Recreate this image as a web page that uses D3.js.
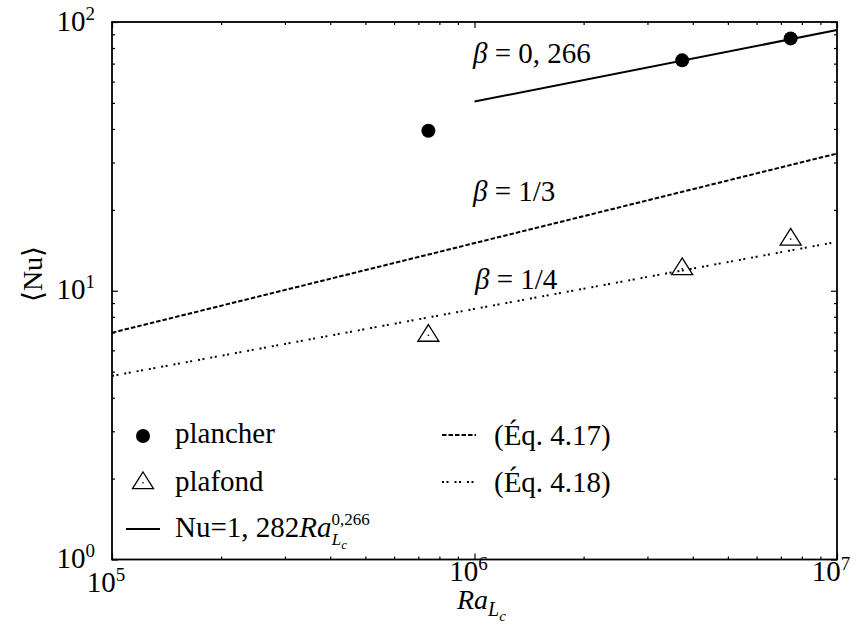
<!DOCTYPE html>
<html>
<head>
<meta charset="utf-8">
<script src="https://cdn.jsdelivr.net/npm/d3@7"></script>
<style>
    body { margin: 0; background: #fff; }
    svg text { font-family: "Liberation Serif", "DejaVu Serif", Times, serif; fill: #000; }
</style>
</head>
<body>
<div id="chart"></div>
<script>
/* *******************************************************
   Data
******************************************************* */
// plancher (floor) - filled circles
var raPlancher = [7.46e5, 3.74e6, 7.45e6];
var nuPlancher = [39.4, 72.0, 86.9];

// plafond (ceiling) - open triangles
var raPlafond = [7.46e5, 3.74e6, 7.45e6];
var nuPlafond = [6.93, 12.26, 15.8];

// fit Nu = 1,282 Ra^0,266 (solid)
var raFit = [1e6, 1e7];
var nuFit = [50.6, 93.3];

// Eq. 4.17 (beta = 1/3, dashed)
var raEq417 = [1e5, 1e7];
var nuEq417 = [6.98, 32.4];

// Eq. 4.18 (beta = 1/4, dotted)
var raEq418 = [1e5, 1e7];
var nuEq418 = [4.82, 15.2];

// tick labels
var xTickValues = [1e5, 1e6, 1e7];
var xTickExp = ["5", "6", "7"];
var yTickValues = [1, 10, 100];
var yTickExp = ["0", "1", "2"];

/* *******************************************************
   Set Chart Parameters (svg size, margins, chartsize)
******************************************************* */
let width = 861;
let height = 638;
var serif = "'Liberation Serif', 'DejaVu Serif', Times, serif";

var margin = { top: 22, right: 24, bottom: 78.5, left: 112 };
var chartWidth = width - margin.left - margin.right;
var chartHeight = height - margin.top - margin.bottom;

let svg = d3.select("#chart").append("svg")
    .attr("width", width).attr("height", height)
    .attr("font-family", serif);

let chartGroup = svg.append("g")
    .attr("transform", `translate(${margin.left}, ${margin.top})`);

// scales
var xScale = d3.scaleLog().domain([1e5, 1e7]).range([0, chartWidth]);
var yScale = d3.scaleLog().domain([1, 100]).range([chartHeight, 0]);

// minor ticks 2..9 for each decade
var xMinor = [];
[1e5, 1e6].forEach(function (d) {
    for (var k = 2; k <= 9; k++) xMinor.push(d * k);
});
var yMinor = [];
[1, 10].forEach(function (d) {
    for (var k = 2; k <= 9; k++) yMinor.push(d * k);
});

/* =======================================================
    Axes (inward ticks on all four sides)
======================================================= */
function drawTicks(axisFn, scale, values, len, transform) {
    var ax = axisFn(scale).tickValues(values).tickSize(-len).tickFormat("");
    var g = chartGroup.append("g").attr("transform", transform).call(ax);
    g.select(".domain").remove();
    g.selectAll("line").attr("stroke", "#000").attr("stroke-width", 1.2);
}
// bottom / top
drawTicks(d3.axisBottom, xScale, xTickValues, 6, `translate(0, ${chartHeight})`);
drawTicks(d3.axisBottom, xScale, xMinor, 3, `translate(0, ${chartHeight})`);
drawTicks(d3.axisTop, xScale, xTickValues, 6, "translate(0, 0)");
drawTicks(d3.axisTop, xScale, xMinor, 3, "translate(0, 0)");
// left / right
drawTicks(d3.axisLeft, yScale, yTickValues, 6, "translate(0, 0)");
drawTicks(d3.axisLeft, yScale, yMinor, 3, "translate(0, 0)");
drawTicks(d3.axisRight, yScale, yTickValues, 6, `translate(${chartWidth}, 0)`);
drawTicks(d3.axisRight, yScale, yMinor, 3, `translate(${chartWidth}, 0)`);

// frame
chartGroup.append("rect")
    .attr("width", chartWidth).attr("height", chartHeight)
    .attr("fill", "none").attr("stroke", "#000").attr("stroke-width", 1.8);

// tick labels 10^n
xTickValues.forEach(function (v, i) {
    var t = chartGroup.append("text")
        .attr("x", xScale(v) - 6)
        .attr("y", chartHeight + (i == 0 ? 32 : 21))
        .attr("text-anchor", "middle")
        .style("font-size", "29px");
    t.append("tspan").text("10");
    t.append("tspan").attr("dy", -11).style("font-size", "19px").text(xTickExp[i]);
});
yTickValues.forEach(function (v, i) {
    var t = chartGroup.append("text")
        .attr("x", -17)
        .attr("y", yScale(v) + 8.5)
        .attr("text-anchor", "end")
        .style("font-size", "29px");
    t.append("tspan").text("10");
    t.append("tspan").attr("dy", -11).style("font-size", "19px").text(yTickExp[i]);
});

// axis titles
var xTitle = svg.append("text")
    .attr("x", 457).attr("y", 609)
    .style("font-size", "28px").style("font-style", "italic");
xTitle.append("tspan").text("Ra");
xTitle.append("tspan").attr("dy", 7).style("font-size", "20px").text("L");
xTitle.append("tspan").attr("dy", 5).style("font-size", "15px").text("c");

svg.append("text")
    .attr("transform", "translate(42, 274) rotate(-90)")
    .attr("text-anchor", "middle")
    .style("font-size", "28px")
    .text("\u27E8Nu\u27E9");

/* =======================================================
    Lines
======================================================= */
var line = d3.line()
    .x(d => xScale(d[0]))
    .y(d => yScale(d[1]));

function zip(xs, ys) { return xs.map((x, i) => [x, ys[i]]); }

var dashed = "4.5,2";
var dotted = "2,2.5,2,6";

chartGroup.append("path")
    .datum(zip(raEq417, nuEq417))
    .attr("d", line)
    .attr("fill", "none").attr("stroke", "#000")
    .attr("stroke-width", 2).attr("stroke-dasharray", dashed);

chartGroup.append("path")
    .datum(zip(raEq418, nuEq418))
    .attr("d", line)
    .attr("fill", "none").attr("stroke", "#000")
    .attr("stroke-width", 2).attr("stroke-dasharray", dotted);

chartGroup.append("path")
    .datum(zip(raFit, nuFit))
    .attr("d", line)
    .attr("fill", "none").attr("stroke", "#000")
    .attr("stroke-width", 2);

/* =======================================================
    Points
======================================================= */
var triPath = "M0,-9 L10.5,7.7 L-10.5,7.7 Z";

chartGroup.selectAll(".plancher")
    .data(zip(raPlancher, nuPlancher))
    .enter()
    .append("circle")
    .attr("class", "plancher")
    .attr("cx", d => xScale(d[0]))
    .attr("cy", d => yScale(d[1]))
    .attr("r", 7)
    .attr("fill", "#000");

var triGroup = chartGroup.selectAll(".plafond")
    .data(zip(raPlafond, nuPlafond))
    .enter()
    .append("g")
    .attr("class", "plafond")
    .attr("transform", d => `translate(${xScale(d[0])}, ${yScale(d[1])})`);
triGroup.append("path")
    .attr("d", triPath)
    .attr("fill", "none").attr("stroke", "#000").attr("stroke-width", 1.3);
triGroup.append("rect")
    .attr("x", -0.7).attr("y", 1).attr("width", 1.4).attr("height", 1.4)
    .attr("fill", "#000");

/* =======================================================
    Annotations
======================================================= */
function beta(x, y, rest) {
    var t = svg.append("text").attr("x", x).attr("y", y).style("font-size", "29px");
    t.append("tspan").style("font-style", "italic").text("\u03B2");
    t.append("tspan").text(" = " + rest);
}
beta(473, 63, "0, 266");
beta(473, 201, "1/3");
beta(475, 289, "1/4");

/* =======================================================
    Legend
======================================================= */
svg.append("circle").attr("cx", 143).attr("cy", 436).attr("r", 7).attr("fill", "#000");
svg.append("text").attr("x", 175).attr("y", 443).style("font-size", "29px").text("plancher");

var legTri = svg.append("g").attr("transform", "translate(143, 481)");
legTri.append("path").attr("d", triPath)
    .attr("fill", "none").attr("stroke", "#000").attr("stroke-width", 1.3);
legTri.append("rect").attr("x", -0.7).attr("y", 1).attr("width", 1.4).attr("height", 1.4).attr("fill", "#000");
svg.append("text").attr("x", 175).attr("y", 491).style("font-size", "29px").text("plafond");

svg.append("line").attr("x1", 126).attr("x2", 160).attr("y1", 529).attr("y2", 529)
    .attr("stroke", "#000").attr("stroke-width", 2);
var fitLab = svg.append("text").attr("x", 175).attr("y", 537).style("font-size", "29px");
fitLab.append("tspan").text("Nu=1, 282");
fitLab.append("tspan").style("font-style", "italic").text("Ra");
fitLab.append("tspan").attr("dy", -12).style("font-size", "17px").text("0,266");
fitLab.append("tspan").attr("dx", -38).attr("dy", 20).style("font-size", "17px").style("font-style", "italic").text("L");
fitLab.append("tspan").attr("dy", 4).style("font-size", "13px").style("font-style", "italic").text("c");

svg.append("line").attr("x1", 442).attr("x2", 476).attr("y1", 435).attr("y2", 435)
    .attr("stroke", "#000").attr("stroke-width", 2).attr("stroke-dasharray", dashed);
svg.append("text").attr("x", 494).attr("y", 445).style("font-size", "29px").text("(\u00C9q. 4.17)");

svg.append("line").attr("x1", 442).attr("x2", 476).attr("y1", 482).attr("y2", 482)
    .attr("stroke", "#000").attr("stroke-width", 2).attr("stroke-dasharray", dotted);
svg.append("text").attr("x", 494).attr("y", 492).style("font-size", "29px").text("(\u00C9q. 4.18)");
</script>
</body>
</html>
